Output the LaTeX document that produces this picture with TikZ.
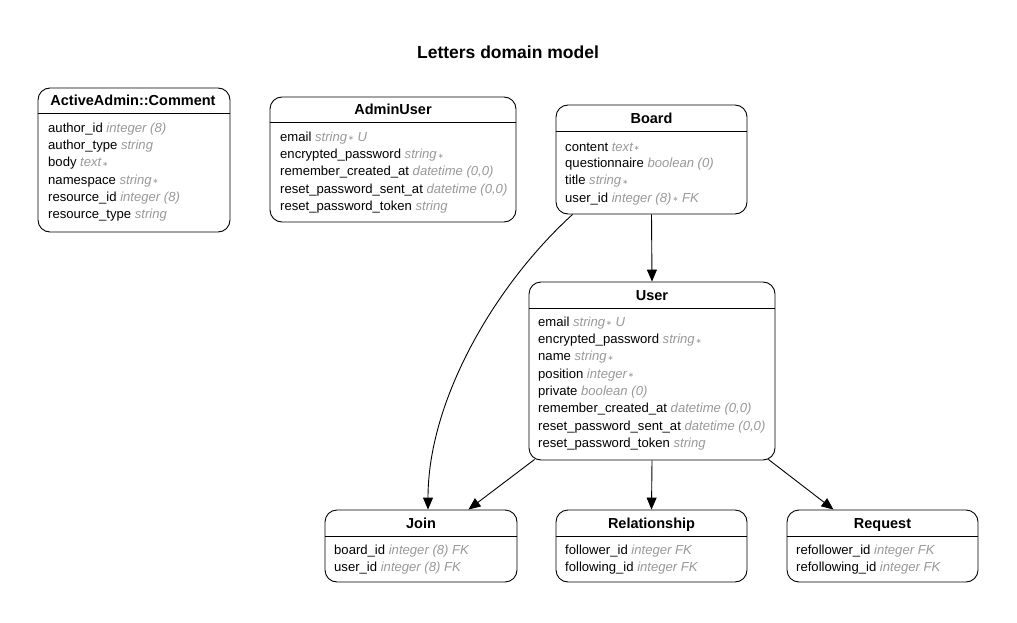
\documentclass[tikz,border=0pt]{standalone}
\usepackage{fontspec}
\setmainfont{Liberation Sans}
\newfontfamily\symf{DejaVu Sans}
\usetikzlibrary{arrows.meta}
\definecolor{tygray}{HTML}{999999}
\newcommand{\ty}[1]{{\color{tygray}\itshape #1}}
\newcommand{\st}{\kern1pt{\symf\fontsize{7}{7}\selectfont\raisebox{0.5pt}{∗}}}
\tikzset{
  box/.style={draw, line width=0.9pt, rounded corners=12pt, inner sep=0pt},
  hdr/.style={font=\fontsize{14.5}{16}\selectfont\bfseries, inner sep=0pt, anchor=base},
  row/.style={font=\fontsize{13.1}{14}\selectfont, anchor=west, inner sep=0pt},
  sep/.style={line width=0.9pt},
  arr/.style={line width=0.9pt, -{Triangle[length=12pt,width=10pt]}},
  ttl/.style={font=\fontsize{17.5}{20}\selectfont\bfseries, inner sep=0pt}
}
\begin{document}
\begin{tikzpicture}[x=1pt,y=-1pt]
\useasboundingbox[fill=white] (0,0) rectangle (1017,623);
\node[ttl] (title) at (508,52) {Letters domain model};

% ActiveAdmin::Comment
\node[box, minimum width=192, minimum height=144] (comment) at (134,160) {};
\node[hdr] (commenth) at (133,105.5) {ActiveAdmin::Comment};
\draw[sep] (38,113) -- (230,113);
\node[row] (c1) at (48,129) {author\_id \ty{integer (8)}};
\node[row] (c2) at (48,146.3) {author\_type \ty{string}};
\node[row] (c3) at (48,163.6) {body \ty{text\st}};
\node[row] (c4) at (48,180.9) {namespace \ty{string\st}};
\node[row] (c5) at (48,198.2) {resource\_id \ty{integer (8)}};
\node[row] (c6) at (48,215.5) {resource\_type \ty{string}};

% AdminUser
\node[box, minimum width=246, minimum height=125] (admin) at (393,159.5) {};
\node[hdr] (adminh) at (393,114.5) {AdminUser};
\draw[sep] (270,122) -- (516,122);
\node[row] (a1) at (280,138) {email \ty{string\st{} U}};
\node[row] (a2) at (280,155.3) {encrypted\_password \ty{string\st}};
\node[row] (a3) at (280,172.6) {remember\_created\_at \ty{datetime (0,0)}};
\node[row] (a4) at (280,189.9) {reset\_password\_sent\_at \ty{datetime (0,0)}};
\node[row] (a5) at (280,207.2) {reset\_password\_token \ty{string}};

% Board
\node[box, minimum width=191, minimum height=109] (board) at (651.5,159.5) {};
\node[hdr] (boardh) at (651.5,123.5) {Board};
\draw[sep] (556,131) -- (747,131);
\node[row] (b1) at (565,147) {content \ty{text\st}};
\node[row] (b2) at (565,164.3) {questionnaire \ty{boolean (0)}};
\node[row] (b3) at (565,181.6) {title \ty{string\st}};
\node[row] (b4) at (565,198.9) {user\_id \ty{integer (8)\st{} FK}};

% User
\node[box, minimum width=246, minimum height=178] (user) at (652,371) {};
\node[hdr] (userh) at (652,300.5) {User};
\draw[sep] (529,308) -- (775,308);
\node[row] (u1) at (538,323) {email \ty{string\st{} U}};
\node[row] (u2) at (538,340.3) {encrypted\_password \ty{string\st}};
\node[row] (u3) at (538,357.6) {name \ty{string\st}};
\node[row] (u4) at (538,374.9) {position \ty{integer\st}};
\node[row] (u5) at (538,392.2) {private \ty{boolean (0)}};
\node[row] (u6) at (538,409.5) {remember\_created\_at \ty{datetime (0,0)}};
\node[row] (u7) at (538,426.8) {reset\_password\_sent\_at \ty{datetime (0,0)}};
\node[row] (u8) at (538,444.1) {reset\_password\_token \ty{string}};

% Join
\node[box, minimum width=192, minimum height=72] (join) at (421,546) {};
\node[hdr] (joinh) at (421,528) {Join};
\draw[sep] (325,536) -- (517,536);
\node[row] (j1) at (334,551) {board\_id \ty{integer (8) FK}};
\node[row] (j2) at (334,568.3) {user\_id \ty{integer (8) FK}};

% Relationship
\node[box, minimum width=191, minimum height=72] (rel) at (651.5,546) {};
\node[hdr] (relh) at (651.5,528) {Relationship};
\draw[sep] (556,536) -- (747,536);
\node[row] (r1) at (565,551) {follower\_id \ty{integer FK}};
\node[row] (r2) at (565,568.3) {following\_id \ty{integer FK}};

% Request
\node[box, minimum width=191, minimum height=72] (req) at (882.5,546) {};
\node[hdr] (reqh) at (882.5,528) {Request};
\draw[sep] (787,536) -- (978,536);
\node[row] (q1) at (796,551) {refollower\_id \ty{integer FK}};
\node[row] (q2) at (796,568.3) {refollowing\_id \ty{integer FK}};

% connectors
\draw[arr] (board.south) -- (user.north);
\draw[arr] ([xshift=17pt]board.south west) .. controls (495,285) and (428,400) .. ([xshift=7pt]join.north);
\draw[arr] ([xshift=6pt,yshift=1pt]user.south west) -- ([xshift=-49pt]join.north east);
\draw[arr] (user.south) -- (rel.north);
\draw[arr] ([xshift=-7pt,yshift=1pt]user.south east) -- ([xshift=-49pt]req.north);
\end{tikzpicture}
\end{document}
